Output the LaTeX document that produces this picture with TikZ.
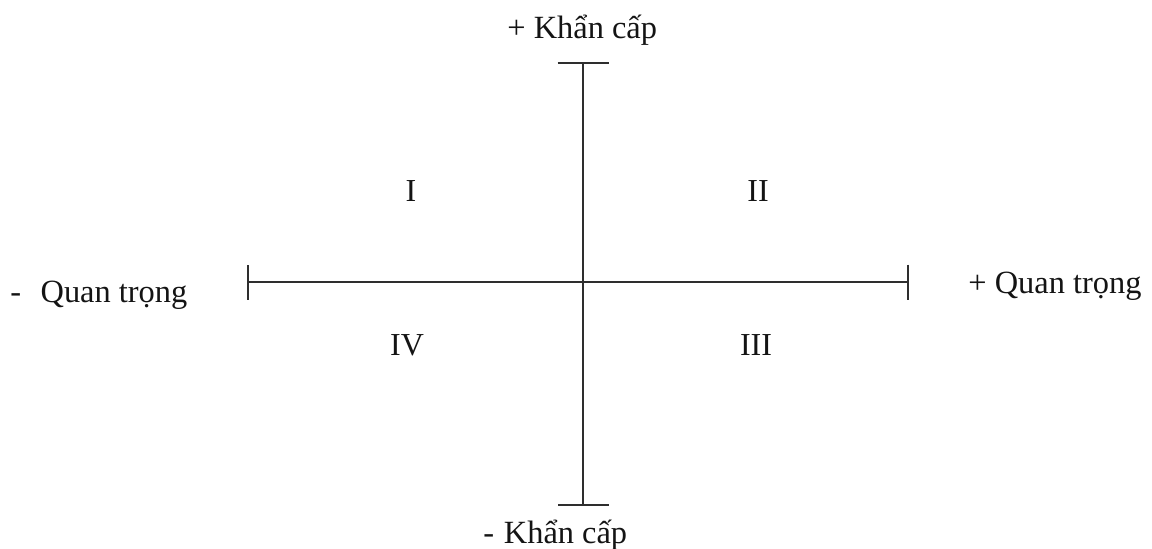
\documentclass[tikz,border=0pt]{standalone}
\usepackage{fontspec}
\setmainfont{Liberation Serif}
\usetikzlibrary{arrows.meta}
\definecolor{Ink}{HTML}{141414}
\definecolor{Axis}{HTML}{2E2E2E}
\tikzset{
  axis line/.style={draw=Axis,line width=1.1pt},
  axis label/.style={text=Ink,inner sep=0pt,font=\fontsize{16.2}{16.2}\selectfont},
  quad label/.style={text=Ink,inner sep=0pt,anchor=base,font=\fontsize{16}{16}\selectfont}
}

\begin{document}
\begin{tikzpicture}[x=0.5pt,y=-0.5pt,line cap=butt]
  \useasboundingbox (0,0) rectangle (1152,548);

  % axis ends
  \coordinate (top) at (583,62);
  \coordinate (bottom) at (583,506);
  \coordinate (left) at (247,282);
  \coordinate (right) at (909,282);

  \draw[axis line, {Bar[width=25.5pt]}-{Bar[width=25.5pt]}] (top) -- (bottom);
  \draw[axis line, {Bar[width=17.5pt]}-{Bar[width=17.5pt]}] (left) -- (right);

  % axis labels
  \node[axis label, anchor=base west] (urgentHi) at (507,38) {+ Khẩn cấp};
  \node[axis label, anchor=base west] (urgentLo) at (483,543) {-\hspace{0.3em}Khẩn cấp};
  \node[axis label, anchor=base west] (importLo) at (10,302) {-\hspace{0.6em}Quan trọng};
  \node[axis label, anchor=base west] (importHi) at (968,293) {+ Quan trọng};

  % quadrants
  \node[quad label] (qI) at (411,201) {I};
  \node[quad label] (qII) at (758,201) {II};
  \node[quad label] (qIII) at (756,355) {III};
  \node[quad label] (qIV) at (407,355) {IV};
\end{tikzpicture}
\end{document}
